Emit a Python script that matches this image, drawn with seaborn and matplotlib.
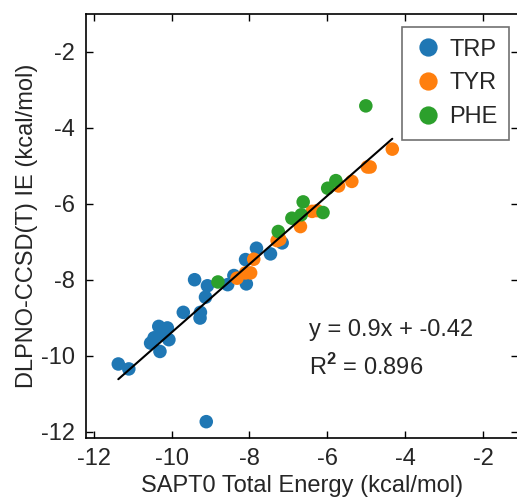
import matplotlib
matplotlib.use("Agg")
import matplotlib.pyplot as plt
import seaborn as sns
import pandas as pd

# ---- data ----
trp_x = [-11.37, -11.10, -10.54, -10.45, -10.33, -10.30, -10.24, -10.11, -10.07, -9.70,
         -9.41, -9.27, -9.26, -9.13, -9.08, -9.11, -8.56, -8.40, -8.10, -8.08, -7.82, -7.46, -7.16]
trp_y = [-10.22, -10.35, -9.67, -9.53, -9.23, -9.89, -9.45, -9.27, -9.58, -8.86,
         -8.00, -9.01, -8.86, -8.46, -8.16, -11.74, -8.13, -7.89, -7.47, -8.11, -7.17, -7.32, -7.03]
tyr_x = [-4.33, -4.90, -4.97, -5.37, -5.71, -6.39, -6.26, -6.69, -7.29, -7.22,
         -7.89, -7.97, -8.10, -8.32]
tyr_y = [-4.56, -5.03, -5.03, -5.41, -5.53, -6.20, -6.18, -6.60, -6.97, -6.94,
         -7.46, -7.82, -7.82, -7.96]
phe_x = [-5.01, -5.78, -5.99, -6.62, -6.91, -6.67, -6.11, -7.26, -8.81]
phe_y = [-3.42, -5.39, -5.59, -5.95, -6.38, -6.29, -6.23, -6.73, -8.06]
groups = ["TRP", "TYR", "PHE"]
colors = ["#1f77b4", "#ff7f0e", "#2ca02c"]
x_ticks = [-12, -10, -8, -6, -4, -2]
y_ticks = [-12, -10, -8, -6, -4, -2]
fit_text = "y = 0.9x + -0.42"
r2_text = r"R$^{\mathbf{2}}$ = 0.896"
x_label = "SAPT0 Total Energy (kcal/mol)"
y_label = "DLPNO-CCSD(T) IE (kcal/mol)"

df = pd.DataFrame({
    "x": trp_x + tyr_x + phe_x,
    "y": trp_y + tyr_y + phe_y,
    "group": ["TRP"] * len(trp_x) + ["TYR"] * len(tyr_x) + ["PHE"] * len(phe_x),
})

sns.set_style("ticks")
plt.rcParams["font.family"] = ["Liberation Sans", "DejaVu Sans"]
plt.rcParams["mathtext.fontset"] = "custom"
plt.rcParams["mathtext.rm"] = "Liberation Sans"
plt.rcParams["mathtext.bf"] = "Liberation Sans:bold"
plt.rcParams["axes.unicode_minus"] = False

fig = plt.figure(figsize=(5.17, 4.97), dpi=100)
ax = fig.add_axes([86 / 517, 59 / 497, 432 / 517, 424 / 497])

sns.scatterplot(data=df, x="x", y="y", hue="group", hue_order=groups,
                palette=colors, s=95, linewidth=0, ax=ax, zorder=2)
sns.regplot(data=df, x="x", y="y", scatter=False, ci=None, truncate=True,
            color="black", line_kws={"linewidth": 1.5, "zorder": 3}, ax=ax)

ax.set_xlim(-12.2, -1.1)
ax.set_ylim(-12.17, -1.0)
ax.set_xticks(x_ticks)
ax.set_yticks(y_ticks)
ax.tick_params(direction="in", top=True, right=True, length=5, width=1,
               labelsize=17, color="black")
ax.tick_params(axis="y", pad=8)
ax.tick_params(axis="x", pad=7)
for sp in ax.spines.values():
    sp.set_linewidth(1.2)
    sp.set_color("black")

ax.set_xlabel(x_label, fontsize=17, labelpad=4)
ax.set_ylabel(y_label, fontsize=17, labelpad=2)

ax.text(-6.46, -9.32, fit_text, fontsize=17, va="center", ha="left")
ax.text(-6.46, -10.29, r2_text, fontsize=17, va="center", ha="left")

handles, labels = ax.get_legend_handles_labels()
leg = ax.legend(handles, labels, loc="upper right", bbox_to_anchor=(0.98, 0.97),
                fontsize=17, frameon=True, fancybox=False, edgecolor="0.3",
                handletextpad=0.3, borderpad=0.5, labelspacing=0.5,
                markerscale=1.35, handlelength=1.2, borderaxespad=0)
leg.get_frame().set_linewidth(1.2)

fig.savefig("out.png", dpi=100)
